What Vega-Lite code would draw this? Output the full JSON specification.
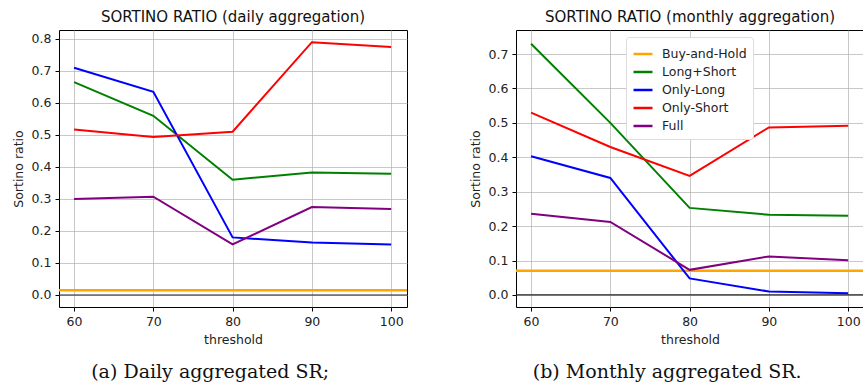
{
  "$schema": "https://vega.github.io/schema/vega-lite/v6.json",
  "padding": {"left": 11, "top": 9, "right": 0, "bottom": 0},
  "background": "white",
  "config": {
    "font": "DejaVu Sans",
    "view": {"stroke": "black", "strokeWidth": 1},
    "axis": {
      "domain": false,
      "grid": true,
      "gridColor": "#b0b0b0",
      "gridOpacity": 0.7,
      "gridWidth": 1,
      "tickColor": "black",
      "tickSize": 4,
      "labelColor": "#222",
      "labelFont": "DejaVu Sans",
      "labelFontSize": 12.5,
      "titleFont": "DejaVu Sans",
      "titleFontSize": 12.5,
      "titleFontWeight": "normal",
      "titleColor": "#222"
    },
    "title": {"font": "DejaVu Sans", "fontSize": 15, "fontWeight": "normal", "color": "#111"},
    "concat": {"spacing": 59}
  },
  "datasets": {
    "d": [
      {"panel": "daily", "strategy": "Buy-and-Hold", "threshold": 60, "value": 0.015},
      {"panel": "daily", "strategy": "Long+Short", "threshold": 60, "value": 0.665},
      {"panel": "daily", "strategy": "Long+Short", "threshold": 70, "value": 0.56},
      {"panel": "daily", "strategy": "Long+Short", "threshold": 80, "value": 0.36},
      {"panel": "daily", "strategy": "Long+Short", "threshold": 90, "value": 0.383},
      {"panel": "daily", "strategy": "Long+Short", "threshold": 100, "value": 0.379},
      {"panel": "daily", "strategy": "Only-Long", "threshold": 60, "value": 0.71},
      {"panel": "daily", "strategy": "Only-Long", "threshold": 70, "value": 0.635},
      {"panel": "daily", "strategy": "Only-Long", "threshold": 80, "value": 0.18},
      {"panel": "daily", "strategy": "Only-Long", "threshold": 90, "value": 0.164},
      {"panel": "daily", "strategy": "Only-Long", "threshold": 100, "value": 0.158},
      {"panel": "daily", "strategy": "Only-Short", "threshold": 60, "value": 0.517},
      {"panel": "daily", "strategy": "Only-Short", "threshold": 70, "value": 0.494},
      {"panel": "daily", "strategy": "Only-Short", "threshold": 80, "value": 0.51},
      {"panel": "daily", "strategy": "Only-Short", "threshold": 90, "value": 0.79},
      {"panel": "daily", "strategy": "Only-Short", "threshold": 100, "value": 0.775},
      {"panel": "daily", "strategy": "Full", "threshold": 60, "value": 0.3},
      {"panel": "daily", "strategy": "Full", "threshold": 70, "value": 0.307},
      {"panel": "daily", "strategy": "Full", "threshold": 80, "value": 0.158},
      {"panel": "daily", "strategy": "Full", "threshold": 90, "value": 0.275},
      {"panel": "daily", "strategy": "Full", "threshold": 100, "value": 0.269},
      {"panel": "monthly", "strategy": "Buy-and-Hold", "threshold": 60, "value": 0.07},
      {"panel": "monthly", "strategy": "Long+Short", "threshold": 60, "value": 0.73},
      {"panel": "monthly", "strategy": "Long+Short", "threshold": 70, "value": 0.5},
      {"panel": "monthly", "strategy": "Long+Short", "threshold": 80, "value": 0.253},
      {"panel": "monthly", "strategy": "Long+Short", "threshold": 90, "value": 0.233},
      {"panel": "monthly", "strategy": "Long+Short", "threshold": 100, "value": 0.23},
      {"panel": "monthly", "strategy": "Only-Long", "threshold": 60, "value": 0.403},
      {"panel": "monthly", "strategy": "Only-Long", "threshold": 70, "value": 0.34},
      {"panel": "monthly", "strategy": "Only-Long", "threshold": 80, "value": 0.048},
      {"panel": "monthly", "strategy": "Only-Long", "threshold": 90, "value": 0.01},
      {"panel": "monthly", "strategy": "Only-Long", "threshold": 100, "value": 0.005},
      {"panel": "monthly", "strategy": "Only-Short", "threshold": 60, "value": 0.53},
      {"panel": "monthly", "strategy": "Only-Short", "threshold": 70, "value": 0.43},
      {"panel": "monthly", "strategy": "Only-Short", "threshold": 80, "value": 0.346},
      {"panel": "monthly", "strategy": "Only-Short", "threshold": 90, "value": 0.487},
      {"panel": "monthly", "strategy": "Only-Short", "threshold": 100, "value": 0.492},
      {"panel": "monthly", "strategy": "Full", "threshold": 60, "value": 0.236},
      {"panel": "monthly", "strategy": "Full", "threshold": 70, "value": 0.212},
      {"panel": "monthly", "strategy": "Full", "threshold": 80, "value": 0.073},
      {"panel": "monthly", "strategy": "Full", "threshold": 90, "value": 0.112},
      {"panel": "monthly", "strategy": "Full", "threshold": 100, "value": 0.101}
    ],
    "zero": [{"y": 0}]
  },
  "resolve": {"scale": {"color": "independent", "x": "independent", "y": "independent"}, "legend": {"color": "independent"}},
  "hconcat": [
    {
      "title": {"text": "(a) Daily aggregated SR;", "orient": "bottom", "anchor": "middle", "font": "DejaVu Serif", "fontSize": 19, "fontWeight": "normal", "color": "#111", "offset": 16},
      "vconcat": [
        {
          "title": {"text": "SORTINO RATIO (daily aggregation)", "offset": 5},
          "width": 348,
          "height": 277,
          "encoding": {
            "y": {"type": "quantitative", "title": "Sortino ratio",
              "scale": {"domain": [-0.0375, 0.828], "nice": false, "zero": false},
              "axis": {"values": [0, 0.1, 0.2, 0.3, 0.4, 0.5, 0.6, 0.7, 0.8], "format": ".1f", "labelPadding": 4, "titlePadding": 6}}
          },
          "layer": [
            {
              "data": {"name": "zero"},
              "mark": {"type": "rule", "color": "#222", "strokeWidth": 1.2},
              "encoding": {"y": {"field": "y", "type": "quantitative"}}
            },
            {
              "data": {"name": "d"},
              "transform": [{"filter": "datum.panel == 'daily' && datum.strategy == 'Buy-and-Hold'"}],
              "mark": {"type": "rule", "strokeWidth": 2.5},
              "encoding": {
                "y": {"field": "value", "type": "quantitative"},
                "color": {"field": "strategy", "type": "nominal", "legend": null,
                  "scale": {"domain": ["Buy-and-Hold", "Long+Short", "Only-Long", "Only-Short", "Full"], "range": ["#FFA500", "#008000", "#0000FF", "#FF0000", "#800080"]}}
              }
            },
            {
              "data": {"name": "d"},
              "transform": [{"filter": "datum.panel == 'daily' && datum.strategy != 'Buy-and-Hold'"}],
              "mark": {"type": "line", "strokeWidth": 2},
              "encoding": {
                "x": {"field": "threshold", "type": "quantitative", "title": "threshold",
                  "scale": {"domain": [58.1, 102], "nice": false, "zero": false},
                  "axis": {"values": [60, 70, 80, 90, 100], "labelPadding": 4, "titlePadding": 6}},
                "y": {"field": "value", "type": "quantitative"},
                "color": {"field": "strategy", "type": "nominal", "legend": null},
                "order": {"field": "threshold"}
              }
            }
          ]
        }
      ]
    },
    {
      "title": {"text": "(b) Monthly aggregated SR.", "orient": "bottom", "anchor": "middle", "font": "DejaVu Serif", "fontSize": 19, "fontWeight": "normal", "color": "#111", "offset": 16},
      "vconcat": [
        {
          "title": {"text": "SORTINO RATIO (monthly aggregation)", "offset": 5},
          "width": 348,
          "height": 277,
          "encoding": {
            "y": {"type": "quantitative", "title": "Sortino ratio",
              "scale": {"domain": [-0.035, 0.77], "nice": false, "zero": false},
              "axis": {"values": [0, 0.1, 0.2, 0.3, 0.4, 0.5, 0.6, 0.7], "format": ".1f", "labelPadding": 4, "titlePadding": 6}}
          },
          "layer": [
            {
              "data": {"name": "zero"},
              "mark": {"type": "rule", "color": "#222", "strokeWidth": 1.2},
              "encoding": {"y": {"field": "y", "type": "quantitative"}}
            },
            {
              "data": {"name": "d"},
              "transform": [{"filter": "datum.panel == 'monthly' && datum.strategy == 'Buy-and-Hold'"}],
              "mark": {"type": "rule", "strokeWidth": 2.5},
              "encoding": {
                "y": {"field": "value", "type": "quantitative"},
                "color": {"field": "strategy", "type": "nominal",
                  "scale": {"domain": ["Buy-and-Hold", "Long+Short", "Only-Long", "Only-Short", "Full"], "range": ["#FFA500", "#008000", "#0000FF", "#FF0000", "#800080"]},
                  "legend": {"title": null, "orient": "none", "legendX": 110, "legendY": 7, "symbolType": "stroke", "symbolStrokeWidth": 2.5, "symbolSize": 360,
                    "labelFont": "DejaVu Sans", "labelFontSize": 12.5, "labelColor": "#222", "labelOffset": 8, "rowPadding": 0,
                    "fillColor": "white", "strokeColor": "#ddd", "padding": 6, "cornerRadius": 3}}
              }
            },
            {
              "data": {"name": "d"},
              "transform": [{"filter": "datum.panel == 'monthly' && datum.strategy != 'Buy-and-Hold'"}],
              "mark": {"type": "line", "strokeWidth": 2},
              "encoding": {
                "x": {"field": "threshold", "type": "quantitative", "title": "threshold",
                  "scale": {"domain": [58.1, 102], "nice": false, "zero": false},
                  "axis": {"values": [60, 70, 80, 90, 100], "labelPadding": 4, "titlePadding": 6}},
                "y": {"field": "value", "type": "quantitative"},
                "color": {"field": "strategy", "type": "nominal"},
                "order": {"field": "threshold"}
              }
            }
          ]
        }
      ]
    }
  ]
}
